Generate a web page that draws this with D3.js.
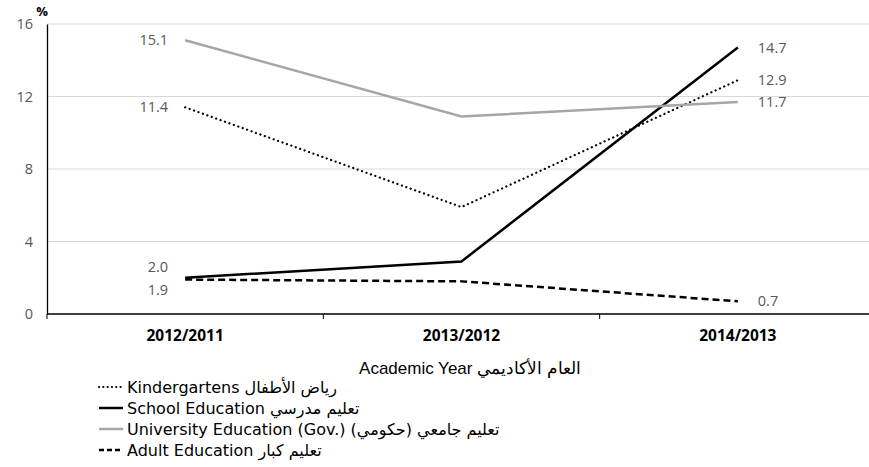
<!DOCTYPE html>
<html><head><meta charset="utf-8">
<script src="https://cdn.jsdelivr.net/npm/d3@7"></script>
<style>body{margin:0;background:#fff}svg{display:block}</style>
</head><body>
<svg id="c" width="869" height="467"></svg>
<script>
const categories = ["2012/2011", "2013/2012", "2014/2013"];
const kindergartens = [11.4, 5.9, 12.9];
const school = [2.0, 2.9, 14.7];
const university = [15.1, 10.9, 11.7];
const adult = [1.9, 1.8, 0.7];
const yTicks = [0, 4, 8, 12, 16];
const seriesNames = [
  ["Kindergartens", "رياض الأطفال"],
  ["School Education", "تعليم مدرسي"],
  ["University Education (Gov.)", "تعليم جامعي (حكومي)"],
  ["Adult Education", "تعليم كبار"]
];
const axisTitle = ["Academic Year", "العام الأكاديمي"];

const series = [
  {name: seriesNames[0], values: kindergartens, color: "#000", width: 2.2, dash: "0.1,4.6", cap: "round", labelPos: ["left", "right"]},
  {name: seriesNames[1], values: school, color: "#000", width: 2.5, dash: null, cap: "butt", labelPos: ["leftUp", "right"]},
  {name: seriesNames[2], values: university, color: "#a6a6a6", width: 2.5, dash: null, cap: "butt", labelPos: ["left", "right"]},
  {name: seriesNames[3], values: adult, color: "#000", width: 2.5, dash: "7,4", cap: "butt", labelPos: ["leftDown", "right"]}
];

const svg = d3.select("#c");
const mLeft = 47, mRight = 876, mTop = 24, mBottom = 314;
const x = d3.scaleBand().domain(categories).range([mLeft, mRight]);
const y = d3.scaleLinear().domain([0, 16]).range([mBottom, mTop]);
const cx = c => x(c) + x.bandwidth() / 2;

// gridlines
svg.append("g").selectAll("line").data(yTicks.filter(d => d > 0)).join("line")
  .attr("x1", mLeft).attr("x2", mRight).attr("y1", d => y(d)).attr("y2", d => y(d))
  .attr("stroke", "#d9d9d9").attr("stroke-width", 1);

// y axis
const yAxis = svg.append("g").attr("transform", `translate(${mLeft},0)`)
  .call(d3.axisLeft(y).tickValues(yTicks).tickSize(0).tickPadding(14));
yAxis.select(".domain").attr("stroke", "#000").attr("stroke-width", 1.3);
yAxis.selectAll("text").attr("font-family", "'Open Sans', sans-serif").attr("font-size", 14.5).attr("fill", "#595959");

// x axis
const xAxis = svg.append("g").attr("transform", `translate(0,${mBottom})`)
  .call(d3.axisBottom(x).tickSize(0).tickPadding(16));
xAxis.select(".domain").attr("stroke", "#000").attr("stroke-width", 1.3).attr("d", `M${mLeft},0H${mRight}`);
xAxis.selectAll("text").attr("font-family", "'Open Sans', sans-serif").attr("font-size", 15.5).attr("font-weight", "bold").attr("fill", "#000");
// boundary ticks
svg.append("g").selectAll("line").data(categories.slice(1)).join("line")
  .attr("x1", d => x(d)).attr("x2", d => x(d)).attr("y1", mBottom).attr("y2", mBottom + 5)
  .attr("stroke", "#000").attr("stroke-width", 1);
svg.append("line").attr("x1", mLeft).attr("x2", mLeft).attr("y1", mBottom).attr("y2", mBottom + 5).attr("stroke", "#000");

// % label
svg.append("text").attr("x", 42).attr("y", 16).attr("text-anchor", "middle")
  .attr("font-family", "'Open Sans', sans-serif").attr("font-weight", "bold").attr("font-size", 13).text("%");

// lines
const line = d3.line().x((d, i) => cx(categories[i])).y(d => y(d));
series.forEach(s => {
  svg.append("path").datum(s.values).attr("d", line).attr("fill", "none")
    .attr("stroke", s.color).attr("stroke-width", s.width)
    .attr("stroke-dasharray", s.dash).attr("stroke-linecap", s.cap);
});

// data labels
series.forEach(s => {
  [0, 2].forEach((idx, k) => {
    const pos = s.labelPos[k];
    const v = s.values[idx];
    let lx = cx(categories[idx]), ly = y(v), anchor = "start";
    if (pos.startsWith("left")) { lx -= 17; anchor = "end"; } else { lx += 20; }
    if (pos === "leftUp") ly -= 11;
    if (pos === "leftDown") ly += 10;
    svg.append("text").attr("x", lx).attr("y", ly).attr("dy", "0.35em").attr("text-anchor", anchor)
      .attr("font-family", "'Open Sans', sans-serif").attr("font-size", 14.5).attr("fill", "#595959")
      .text(v.toFixed(1));
  });
});

// axis title
svg.append("text").attr("x", 470).attr("y", 374).attr("text-anchor", "middle")
  .attr("font-family", "'Liberation Sans', Arial, sans-serif").attr("font-size", 17).attr("fill", "#000")
  .text(axisTitle[0] + " \u2067" + axisTitle[1] + "\u2069");

// legend
const lg = svg.append("g");
series.forEach((s, i) => {
  const ly = 387 + i * 21;
  lg.append("line").attr("x1", 99).attr("x2", 123).attr("y1", ly).attr("y2", ly)
    .attr("stroke", s.color).attr("stroke-width", s.width)
    .attr("stroke-dasharray", s.dash ? (s.cap === "round" ? "0.1,4.2" : "5,3") : null)
    .attr("stroke-linecap", s.cap);
  lg.append("text").attr("x", 127).attr("y", ly).attr("dy", "0.36em")
    .attr("font-family", "'DejaVu Sans', sans-serif").attr("font-size", 16).attr("fill", "#000")
    .text(s.name[0] + " \u2067" + s.name[1] + "\u2069");
});
</script>
</body></html>
